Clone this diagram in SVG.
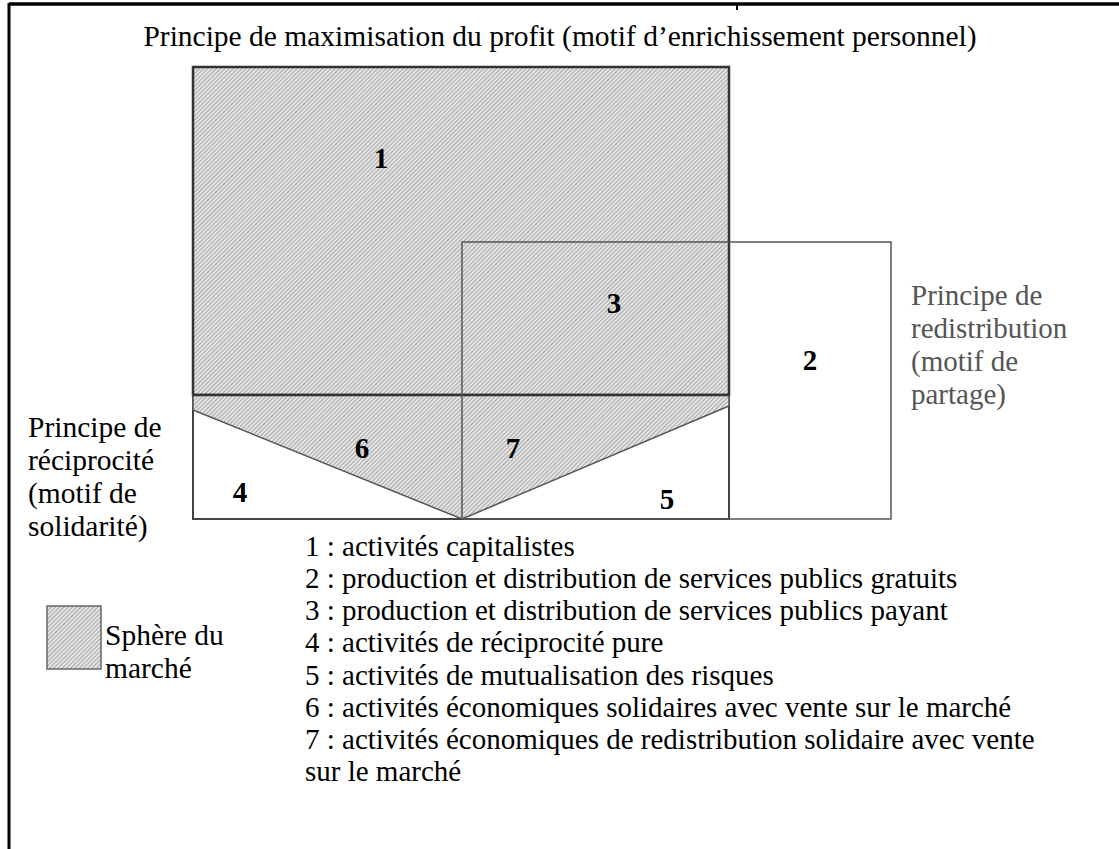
<svg xmlns="http://www.w3.org/2000/svg" width="1119" height="849" viewBox="0 0 1119 849">
<defs>
<pattern id="hatch" width="3" height="3" patternUnits="userSpaceOnUse" patternTransform="rotate(45)">
<rect width="3" height="3" fill="#e4e4e4"/>
<line x1="0" y1="0" x2="0" y2="3" stroke="#808080" stroke-width="1.2"/>
</pattern>
</defs>
<style>
text{font-family:"Liberation Serif","Times New Roman",serif;font-size:29px;fill:#000}
.big{font-size:29.5px}
.num{font-weight:bold;font-size:29px}
.gray{fill:#555}
</style>
<rect width="1119" height="849" fill="#fff"/>
<g id="frame">
<line x1="9" y1="4" x2="1119" y2="4" stroke="#000" stroke-width="3.5"/>
<line x1="9" y1="3" x2="9" y2="849" stroke="#000" stroke-width="3"/>
<line x1="737" y1="4" x2="737" y2="10" stroke="#000" stroke-width="2"/>
</g>
<g id="title"><text class="big" x="560" y="46" text-anchor="middle">Principe de maximisation du profit (motif d’enrichissement personnel)</text></g>
<g id="zone1">
<rect x="193" y="67" width="536" height="328" fill="url(#hatch)" stroke="#333" stroke-width="2.5"/>
<text class="num" x="381" y="168" text-anchor="middle">1</text>
</g>
<g id="zone-bottom">
<rect x="193" y="395" width="536" height="124" fill="#fff" stroke="#444" stroke-width="2"/>
<polygon points="193,395 729,395 729,406 462,519 193,410" fill="url(#hatch)" stroke="#555" stroke-width="1.5"/>
<line x1="193" y1="395" x2="729" y2="395" stroke="#333" stroke-width="2.5"/>
<line x1="193" y1="519" x2="729" y2="519" stroke="#444" stroke-width="2"/>
<text class="num" x="362" y="458" text-anchor="middle">6</text>
<text class="num" x="513" y="458" text-anchor="middle">7</text>
<text class="num" x="240" y="502" text-anchor="middle">4</text>
<text class="num" x="667" y="509" text-anchor="middle">5</text>
</g>
<g id="zone2">
<rect x="462" y="242" width="429" height="277" fill="none" stroke="#555" stroke-width="1.5"/>
<text class="num" x="614" y="313" text-anchor="middle">3</text>
<text class="num" x="810" y="370" text-anchor="middle">2</text>
</g>
<g id="label-redistribution">
<text class="gray" x="911" y="305">Principe de</text>
<text class="gray" x="911" y="338">redistribution</text>
<text class="gray" x="911" y="371">(motif de</text>
<text class="gray" x="911" y="404">partage)</text>
</g>
<g id="label-reciprocite">
<text class="big" x="28" y="437">Principe de</text>
<text class="big" x="28" y="470">réciprocité</text>
<text class="big" x="28" y="503">(motif de</text>
<text class="big" x="28" y="536">solidarité)</text>
</g>
<g id="legend-swatch">
<rect x="47" y="606" width="54" height="63" fill="url(#hatch)" stroke="#666" stroke-width="1.5"/>
<text class="big" x="105" y="645">Sphère du</text>
<text class="big" x="105" y="678">marché</text>
</g>
<g id="legend">
<text x="305" y="556">1 : activités capitalistes</text>
<text x="305" y="588">2 : production et distribution de services publics gratuits</text>
<text x="305" y="620">3 : production et distribution de services publics payant</text>
<text x="305" y="652">4 : activités de réciprocité pure</text>
<text x="305" y="685">5 : activités de mutualisation des risques</text>
<text x="305" y="717">6 : activités économiques solidaires avec vente sur le marché</text>
<text x="305" y="749">7 : activités économiques de redistribution solidaire avec vente</text>
<text x="305" y="781">sur le marché</text>
</g>
</svg>
